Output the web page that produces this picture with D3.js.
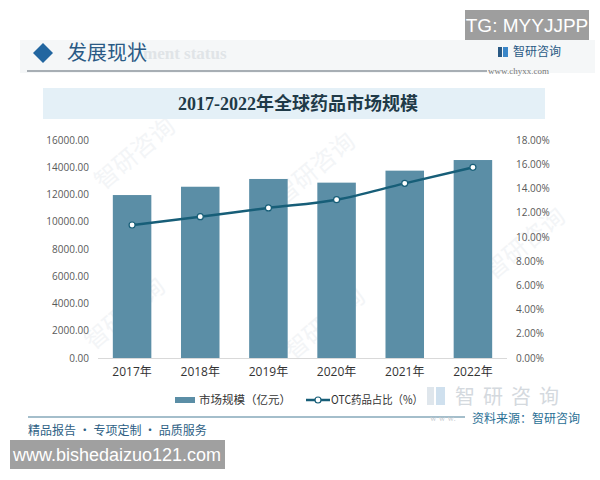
<!DOCTYPE html>
<html><head><meta charset="utf-8">
<script src="https://cdn.jsdelivr.net/npm/d3@7"></script>
<style>body{margin:0;background:#fff}svg{display:block}</style>
</head><body>
<svg id="c" width="600" height="480"></svg>
<script>
const years = ["2017年","2018年","2019年","2020年","2021年","2022年"];
const marketSize = [11960, 12570, 13140, 12870, 13750, 14530];
const otcShare = [10.98, 11.67, 12.39, 13.07, 14.42, 15.74];
const leftTicks = [0,2000,4000,6000,8000,10000,12000,14000,16000];
const rightTicks = [0,2,4,6,8,10,12,14,16,18];
const seriesNames = ["市场规模（亿元）","OTC药品占比（%）"];

const svg = d3.select("#c");
const CJK = "'Noto Sans CJK SC','Noto Sans',sans-serif";
const SERIF = "'Liberation Serif','DejaVu Serif','Noto Sans CJK SC',serif";

// faint watermarks
const wm = [[140,160],[320,175],[130,320],[330,330],[530,250]];
wm.forEach(([x,y])=>svg.append("text").attr("transform",`translate(${x},${y}) rotate(-40)`)
  .attr("text-anchor","middle").attr("font-family",CJK).attr("font-size",24).attr("fill","#f3f5f7").text("智研咨询"));

// header band
svg.append("rect").attr("x",20).attr("y",40).attr("width",575).attr("height",33).attr("fill","#f5f7f8");
svg.append("text").attr("x",143).attr("y",59).attr("font-family",SERIF).attr("font-weight","bold")
  .attr("font-size",17).attr("fill","#e0e4e7").text("ment status");
svg.append("path").attr("d",d3.symbol(d3.symbolSquare,200)())
  .attr("transform","translate(43,53) rotate(45)").attr("fill","#2266a0");
svg.append("text").attr("x",67).attr("y",60).attr("font-family",SERIF).attr("font-size",20)
  .attr("fill","#2a5a85").text("发展现状");
svg.append("line").attr("x1",27).attr("x2",487).attr("y1",71).attr("y2",71).attr("stroke","#5a6670").attr("stroke-width",1.2);
// logo
const logo = svg.append("g").attr("transform","translate(498,47)");
logo.append("rect").attr("width",4).attr("height",10).attr("fill","#2a5a85");
logo.append("rect").attr("x",5).attr("width",5).attr("height",10).attr("fill","#3a86c8");
svg.append("text").attr("x",513).attr("y",56).attr("font-family",CJK).attr("font-size",12).attr("fill","#2a5a85").text("智研咨询");
svg.append("text").attr("x",488).attr("y",74).attr("font-family",SERIF).attr("font-size",9).attr("fill","#777").text("www.chyxx.com");

// TG box
svg.append("rect").attr("x",465).attr("y",10).attr("width",124).attr("height",30).attr("fill","#9e9e9e");
svg.append("text").attr("x",527).attr("y",32).attr("text-anchor","middle").attr("font-family","'Liberation Sans',Arial,sans-serif")
  .attr("font-size",19).attr("fill","#fff").text("TG: MYYJJPP");

// title band
svg.append("rect").attr("x",43).attr("y",88).attr("width",502).attr("height",31).attr("fill","#e4f0f7");
svg.append("text").attr("x",298).attr("y",110).attr("text-anchor","middle").attr("font-family",SERIF)
  .attr("font-weight","bold").attr("font-size",18).attr("fill","#1f3a48").text("2017-2022年全球药品市场规模");

// scales
const x = d3.scaleBand().domain(years).range([98,507]).paddingInner(0.435).paddingOuter(0.2175);
const yL = d3.scaleLinear().domain([0,16000]).range([358,140]);
const yR = d3.scaleLinear().domain([0,18]).range([358,140]);

// axes
const axL = svg.append("g").attr("transform","translate(98,0)")
  .call(d3.axisLeft(yL).tickValues(leftTicks).tickFormat(d=>d3.format(".2f")(d)).tickSize(0).tickPadding(9));
const axR = svg.append("g").attr("transform","translate(507,0)")
  .call(d3.axisRight(yR).tickValues(rightTicks).tickFormat(d=>d3.format(".2f")(d)+"%").tickSize(0).tickPadding(9));
[axL,axR].forEach(a=>{a.select(".domain").remove();
  a.selectAll("text").attr("font-family","'Open Sans','Noto Sans',sans-serif").attr("font-size",10).attr("fill","#595959");});

// bars
svg.append("g").selectAll("rect").data(years).join("rect")
  .attr("x",d=>x(d)).attr("width",x.bandwidth())
  .attr("y",(d,i)=>yL(marketSize[i])).attr("height",(d,i)=>yL(0)-yL(marketSize[i]))
  .attr("fill","#5b8ea6");

// baseline
svg.append("line").attr("x1",98).attr("x2",507).attr("y1",358.5).attr("y2",358.5).attr("stroke","#d9d9d9");

// x axis labels
const axB = svg.append("g").attr("transform","translate(0,358)")
  .call(d3.axisBottom(x).tickSize(0).tickPadding(9));
axB.select(".domain").remove();
axB.selectAll("text").attr("font-family","'Open Sans','Noto Sans CJK SC',sans-serif").attr("font-size",12).attr("fill","#333");

// line
const cx = d=>x(d)+x.bandwidth()/2;
const line = d3.line().x((d,i)=>cx(years[i])).y(d=>yR(d)).curve(d3.curveMonotoneX);
svg.append("path").datum(otcShare).attr("d",line).attr("fill","none").attr("stroke","#175e78").attr("stroke-width",2.5);
svg.append("g").selectAll("circle").data(otcShare).join("circle")
  .attr("cx",(d,i)=>cx(years[i])).attr("cy",d=>yR(d)).attr("r",3)
  .attr("fill","#fff").attr("stroke","#175e78").attr("stroke-width",1.2);

// big faded logo watermark (behind legend)
const bl = svg.append("g").attr("transform","translate(427,387)");
bl.append("rect").attr("width",7).attr("height",18).attr("fill","#dfe6ec");
bl.append("rect").attr("x",9).attr("width",9).attr("height",18).attr("fill","#cfe0ee");
svg.append("text").attr("x",455).attr("y",404).attr("font-family",CJK).attr("font-size",20).attr("letter-spacing",8).attr("fill","#d4d9de").text("智研咨询");

// legend
svg.append("rect").attr("x",175).attr("y",397).attr("width",20).attr("height",6).attr("fill","#5b8ea6");
svg.append("text").attr("x",199).attr("y",404).attr("font-family",CJK).attr("font-size",11.5).attr("fill","#333").text(seriesNames[0]);
svg.append("line").attr("x1",306).attr("x2",330).attr("y1",400).attr("y2",400).attr("stroke","#175e78").attr("stroke-width",2.5);
svg.append("circle").attr("cx",318).attr("cy",400).attr("r",3).attr("fill","#fff").attr("stroke","#175e78").attr("stroke-width",1.2);
svg.append("text").attr("x",331).attr("y",404).attr("font-family",CJK).attr("font-size",11.5).attr("fill","#333")
  .attr("textLength",92).attr("lengthAdjust","spacingAndGlyphs").text(seriesNames[1]);

// footer
svg.append("line").attr("x1",28).attr("x2",465).attr("y1",417).attr("y2",417).attr("stroke","#4a7f98").attr("stroke-width",1.2);
svg.append("text").attr("x",430).attr("y",421).attr("font-family",SERIF).attr("font-size",9).attr("fill","#c8ccd0").text("w w w.");
svg.append("text").attr("x",472).attr("y",423).attr("font-family",CJK).attr("font-size",12).attr("fill","#2a6f95").text("资料来源：智研咨询");
svg.append("text").attr("x",28).attr("y",435).attr("font-family",CJK).attr("font-size",12).attr("fill","#2e5f85").text("精品报告 · 专项定制 · 品质服务");

// bottom watermark box
svg.append("rect").attr("x",10).attr("y",440).attr("width",215).attr("height",29).attr("fill","#a0a0a0");
svg.append("text").attr("x",117).attr("y",461).attr("text-anchor","middle").attr("font-family","'Liberation Sans',Arial,sans-serif")
  .attr("font-size",18).attr("fill","#fff").text("www.bishedaizuo121.com");
</script>
</body></html>
